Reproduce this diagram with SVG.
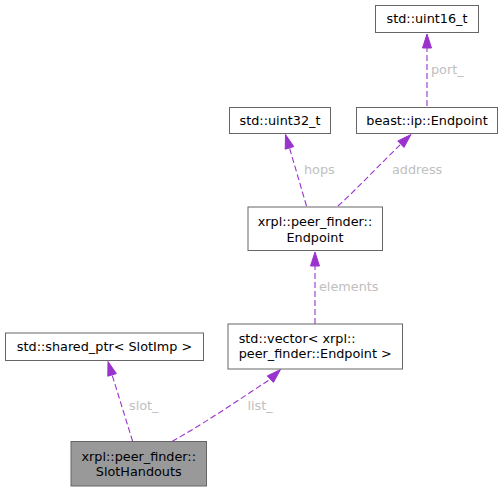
<svg xmlns="http://www.w3.org/2000/svg" width="504" height="492" viewBox="0 0 504 492">
<defs>
<style>
.n rect{fill:#fff;stroke:#666;stroke-width:1}
.n text,.e text{font-family:"DejaVu Sans",sans-serif;font-size:12.8px;text-anchor:middle}
.n text{fill:#000}
.n text.l{text-anchor:start}
.e path{fill:none;stroke:#9a32cd;stroke-width:1.1;stroke-dasharray:6,3}
.e polygon{fill:#9a32cd;stroke:#9a32cd}
.e text{fill:#c0c0c0;text-anchor:start}
#sh rect{fill:#999}
</style>
</defs>
<rect width="504" height="492" fill="#fff"/>
<g class="e" id="connectors">
<path d="M132.7,441.5 L112.1,374.9"/><polygon points="108,361.5 116.4,373.6 107.8,376.2"/><text x="129" y="410">slot_</text>
<path d="M172,441.5 C205,423 240,399 270.35,379.15"/><polygon points="280.5,369.5 273.45,382.4 267.25,375.9"/><text x="247.5" y="410">list_</text>
<path d="M315,324 L315,266"/><polygon points="315,252 319.5,266 310.5,266"/><text x="319" y="291">elements</text>
<path d="M306.5,206 L289.5,147.9"/><polygon points="285.5,134.5 293.8,146.6 285.2,149.2"/><text x="304" y="174">hops</text>
<path d="M338,206 C358,188 382,162 400.9,144.2"/><polygon points="411,134.5 404,147.4 397.8,141"/><text x="392" y="174">address</text>
<path d="M427,106 L427,48"/><polygon points="427,34 431.5,48 422.5,48"/><text x="431" y="74">port_</text>
</g>
<g class="n" id="uint16"><rect x="375.5" y="5.5" width="103" height="27"/><text x="427" y="23">std::uint16_t</text></g>
<g class="n" id="uint32"><rect x="229.5" y="107.5" width="101" height="26"/><text x="280" y="125">std::uint32_t</text></g>
<g class="n" id="ipep"><rect x="356.5" y="107.5" width="141" height="26"/><text x="427" y="125">beast::ip::Endpoint</text></g>
<g class="n" id="pfep"><rect x="248" y="207" width="134.5" height="43.5"/><text x="315" y="226">xrpl::peer_finder::</text><text x="315" y="241.5">Endpoint</text></g>
<g class="n" id="shptr"><rect x="5.5" y="333" width="198" height="27.5"/><text x="104.5" y="351">std::shared_ptr&lt; SlotImp &gt;</text></g>
<g class="n" id="vec"><rect x="228" y="324" width="174.5" height="45"/><text class="l" x="238.7" y="342.7">std::vector&lt; xrpl::</text><text class="l" x="238.7" y="358.2">peer_finder::Endpoint &gt;</text></g>
<g class="n" id="sh"><rect x="71" y="441.5" width="135.5" height="44.5"/><text x="138.75" y="460.5">xrpl::peer_finder::</text><text x="138.75" y="476">SlotHandouts</text></g>
</svg>
